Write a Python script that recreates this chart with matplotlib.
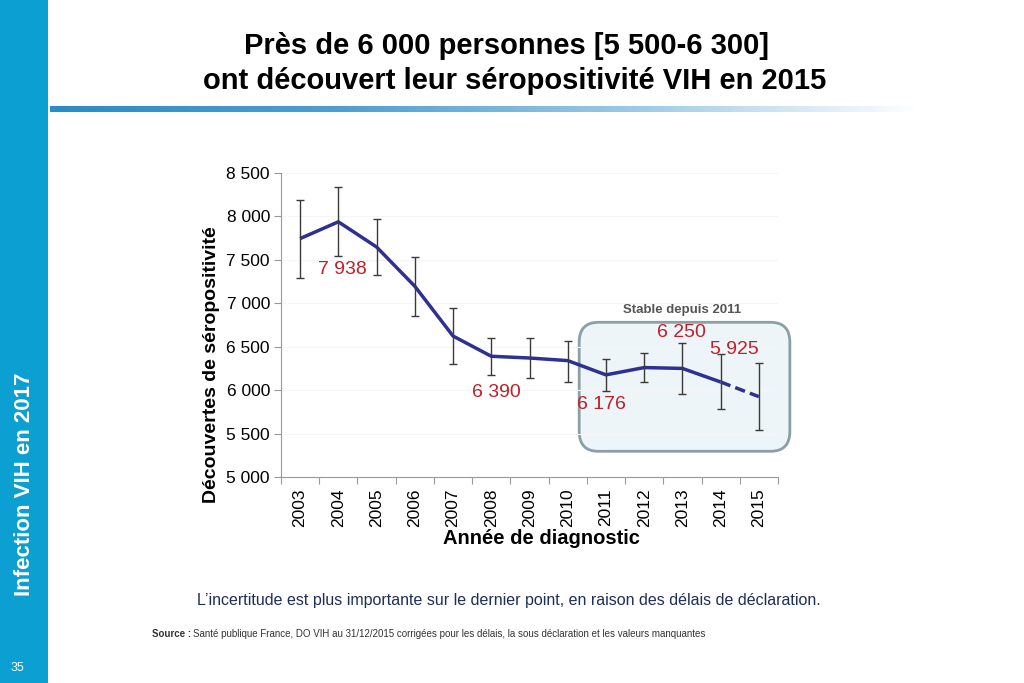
import numpy as np
import matplotlib.pyplot as plt
from matplotlib.patches import FancyBboxPatch, Rectangle
from matplotlib.colors import LinearSegmentedColormap
from matplotlib.ticker import FuncFormatter

plt.rcParams['font.family'] = ['Liberation Sans', 'DejaVu Sans']

# données
annees = ['2003', '2004', '2005', '2006', '2007', '2008', '2009',
          '2010', '2011', '2012', '2013', '2014', '2015']
decouvertes = [7745, 7938, 7648, 7196, 6623, 6390, 6370, 6340, 6176, 6260, 6250, 6094, 5925]
ic_haut = [8194, 8339, 7970, 7533, 6946, 6600, 6600, 6570, 6363, 6432, 6543, 6413, 6313]
ic_bas = [7291, 7549, 7322, 6850, 6306, 6171, 6140, 6098, 5987, 6090, 5952, 5780, 5538]
# étiquettes affichées : (indice, texte, décalage en points)
etiquettes = [(1, '7 938', (3, -34)), (5, '6 390', (4, -26)), (8, '6 176', (-3, -21)),
              (10, '6 250', (-1, 26)), (12, '5 925', (-18, 34))]

bleu = '#2e3192'
rouge = '#c0202a'

fig = plt.figure(figsize=(10.24, 6.83), dpi=100)

# bandeau bleu à gauche
fig.patches.append(Rectangle((0, 0), 48 / 1024, 1, transform=fig.transFigure,
                             facecolor='#0b9fd2', edgecolor='none', zorder=0))
fig.text(25 / 1024, 1 - 484 / 683, 'Infection VIH en 2017', rotation=90, color='white',
         fontsize=16, fontweight='bold', ha='center', va='center')
fig.text(17 / 1024, 1 - 668 / 683, '35', color='white', fontsize=9, ha='center', va='center')

# filet dégradé sous le titre
grad = np.linspace(0, 1, 256).reshape(1, -1)
ax_bar = fig.add_axes([50 / 1024, 1 - 112 / 683, 870 / 1024, 6 / 683])
cmap = LinearSegmentedColormap.from_list('g', ['#2a8cc4', '#4f9fd0', '#9cc8e4', '#ffffff'])
ax_bar.imshow(grad, aspect='auto', cmap=cmap)
ax_bar.axis('off')

# titre
fig.text(0.495, 1 - 46 / 683, 'Près de 6 000 personnes [5 500-6 300]', fontsize=21,
         fontweight='bold', ha='center', va='center')
fig.text(0.503, 1 - 81 / 683, 'ont découvert leur séropositivité VIH en 2015', fontsize=21,
         fontweight='bold', ha='center', va='center')

ax = fig.add_axes([281 / 1024, 1 - 477 / 683, 497 / 1024, 304 / 683])
x = np.arange(len(annees))
y = np.array(decouvertes)

ax.plot(x[:-1], y[:-1], color=bleu, lw=2.5, zorder=3, solid_capstyle='butt')
ax.plot(x[-2:], y[-2:], color=bleu, lw=2.5, ls=(0, (3, 1.5)), zorder=3)
ax.errorbar(x, y, yerr=[y - np.array(ic_bas), np.array(ic_haut) - y], fmt='none',
            ecolor='#3a3a3a', elinewidth=1, capsize=3, capthick=1, zorder=4)

for i, txt, off in etiquettes:
    ax.annotate(txt, (x[i], y[i]), xytext=off, textcoords='offset points',
                ha='center', va='center', color=rouge, fontsize=14)

# encadré "Stable depuis 2011"
box = FancyBboxPatch((7.3, 5296), 5.51, 1485, boxstyle='round,pad=0,rounding_size=0.5',
                     mutation_aspect=460, facecolor='#eef5f8', edgecolor='#8a9fa6',
                     lw=2, zorder=1, clip_on=False)
ax.add_patch(box)
ax.text(10.0, 6919, 'Stable depuis 2011', ha='center', va='center', fontsize=9.5,
        fontweight='bold', color='#555555')

ax.set_xlim(-0.5, 12.5)
ax.set_ylim(5000, 8500)
ax.set_yticks(np.arange(5000, 8501, 500))
ax.yaxis.set_major_formatter(FuncFormatter(lambda v, p: f'{int(v):,}'.replace(',', ' ')))
ax.set_xticks(np.arange(-0.5, 12.6, 1))
ax.set_xticklabels([])
ax.set_xticks(x, minor=True)
ax.set_xticklabels(annees, minor=True, rotation=90, fontsize=12.5)
ax.tick_params(axis='x', which='minor', length=0, pad=8)
ax.tick_params(axis='x', which='major', length=5, color='#999999', direction='out')
ax.tick_params(axis='y', length=5, color='#999999', labelsize=12.5, pad=3)
ax.grid(axis='y', color='#f5f5f5', lw=0.8, zorder=0)
for s in ['top', 'right']:
    ax.spines[s].set_visible(False)
for s in ['left', 'bottom']:
    ax.spines[s].set_color('#999999')

fig.text(212 / 1024, 1 - 365 / 683, 'Découvertes de séropositivité', rotation=90,
         fontsize=14, fontweight='bold', ha='center', va='center')
fig.text(541 / 1024, 1 - 539 / 683, 'Année de diagnostic', fontsize=14.5,
         fontweight='bold', ha='center', va='center')

fig.text(509 / 1024, 1 - 600 / 683,
         'L\u2019incertitude est plus importante sur le dernier point, en raison des délais de déclaration.',
         fontsize=11.5, color='#1f2d5a', ha='center', va='center')
fig.text(152 / 1024, 1 - 634 / 683, 'Source :', fontsize=7, fontweight='bold',
         color='#333333', ha='left', va='center')
fig.text(193 / 1024, 1 - 634 / 683,
         'Santé publique France, DO VIH au 31/12/2015 corrigées pour les délais, la sous déclaration et les valeurs manquantes',
         fontsize=7, color='#333333', ha='left', va='center')

fig.savefig('out.png', dpi=100)
